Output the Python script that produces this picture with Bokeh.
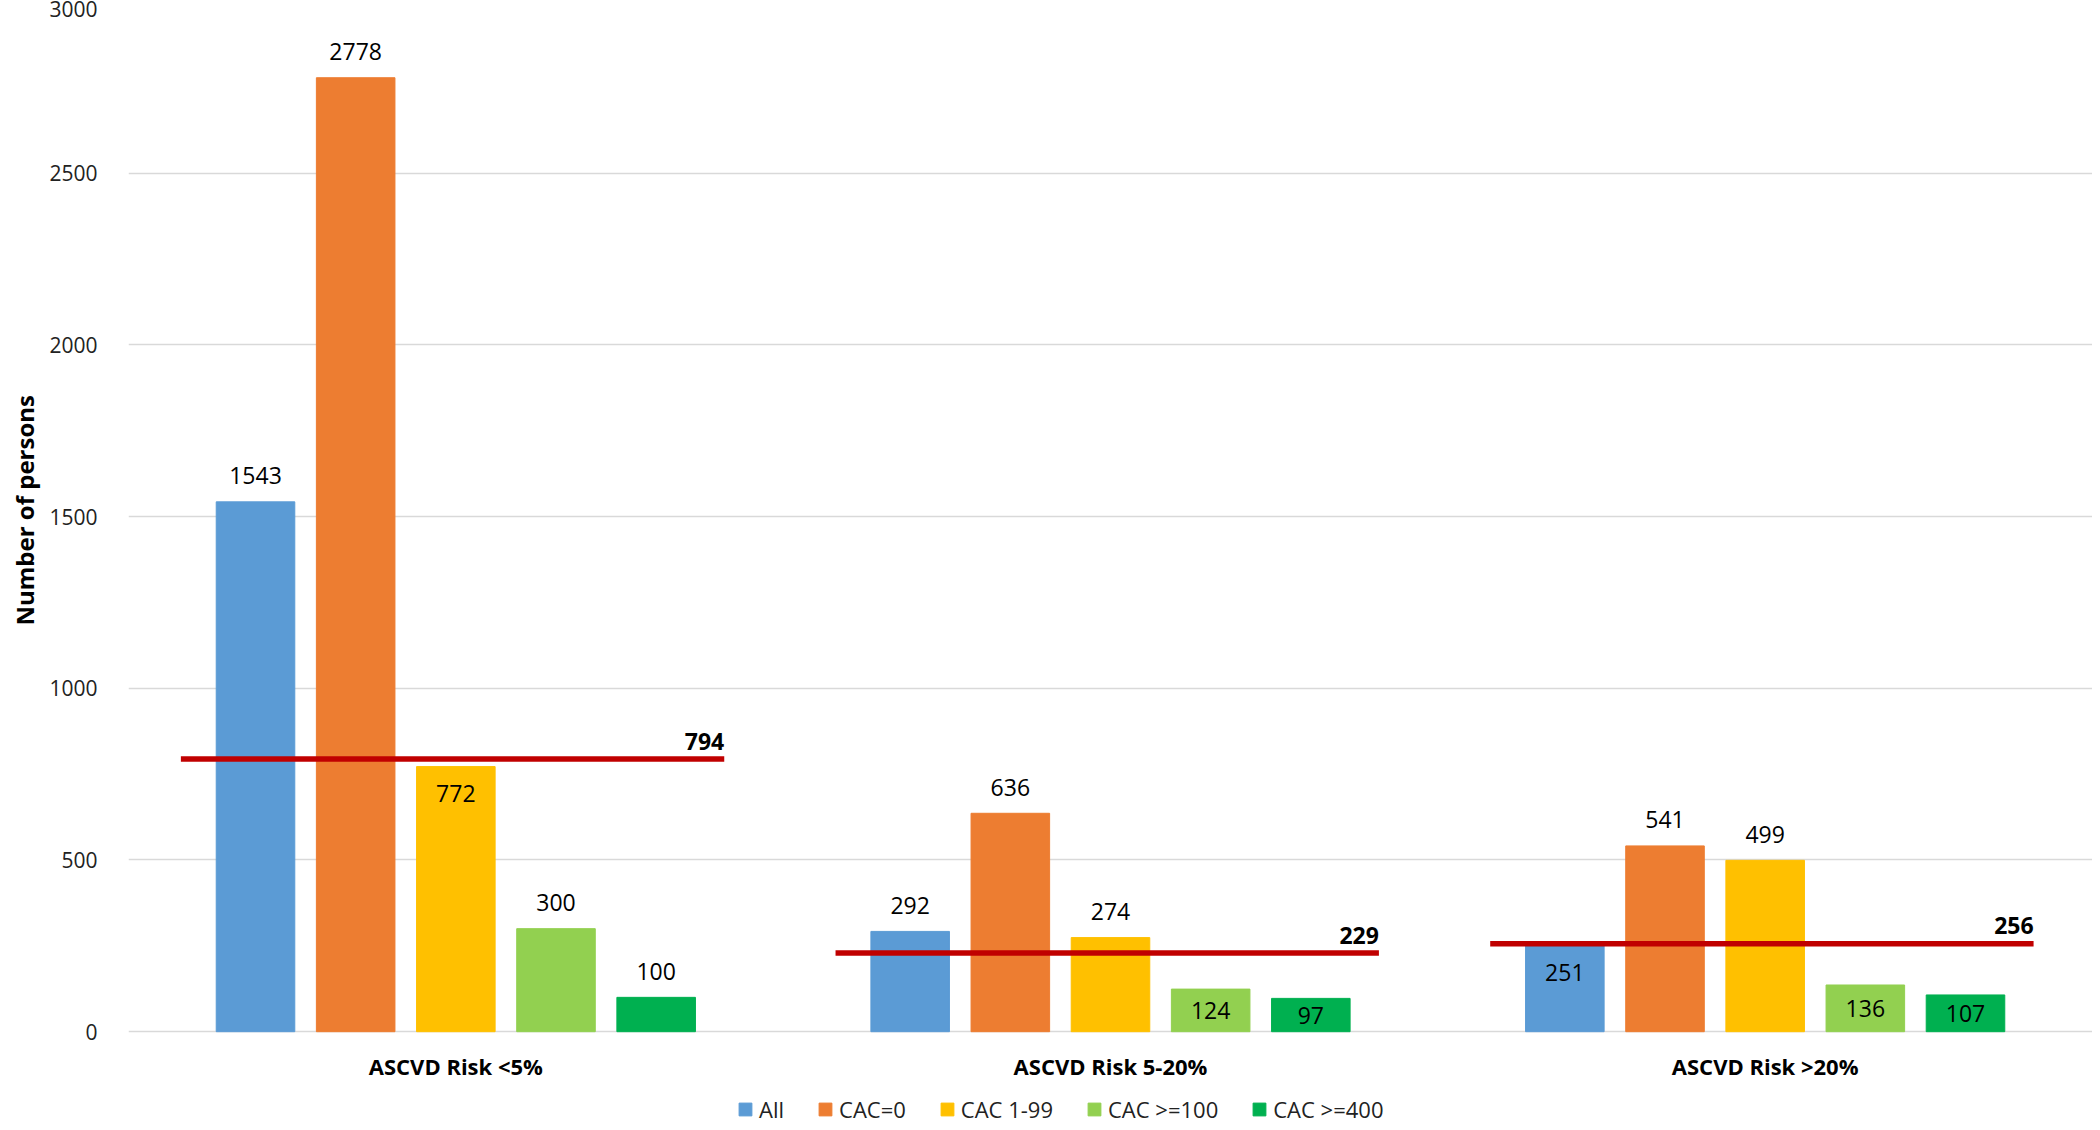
from bokeh.plotting import figure
from bokeh.models import ColumnDataSource, FactorRange, Range1d, Legend, LegendItem, FixedTicker
from bokeh.transform import dodge
from bokeh.core.properties import value
from bokeh.embed import file_html
from bokeh.resources import INLINE

# ---------------- data ----------------
categories = ["ASCVD Risk <5%", "ASCVD Risk 5-20%", "ASCVD Risk >20%"]
series_names = ["All", "CAC=0", "CAC 1-99", "CAC >=100", "CAC >=400"]
all_vals = [1543, 292, 251]
cac0_vals = [2778, 636, 541]
cac1_99_vals = [772, 274, 499]
cac100_vals = [300, 124, 136]
cac400_vals = [100, 97, 107]
average_vals = [794, 229, 256]
y_ticks = [0, 500, 1000, 1500, 2000, 2500, 3000]
y_max = 3000

# ---------------- style / layout ----------------
colors = ["#5B9BD5", "#ED7D31", "#FFC000", "#92D050", "#00B050"]
offsets = [-0.306, -0.153, 0.0, 0.153, 0.306]
bar_width = 0.12
# label placement per series / category: out = above bar, end = inside top, center = middle
label_place = [
    ["out", "out", "end"],
    ["out", "out", "out"],
    ["end", "out", "out"],
    ["out", "center", "center"],
    ["out", "center", "center"],
]
FONT = "Open Sans"
PLOT_PX = 1021      # pixels from 0 to y_max
BOTTOM_PX = 90      # room below the zero line for category names and legend

series_vals = [all_vals, cac0_vals, cac1_99_vals, cac100_vals, cac400_vals]

p = figure(
    width=2092, height=1122,
    x_range=FactorRange(*categories, range_padding=0),
    y_range=Range1d(-y_max * BOTTOM_PX / PLOT_PX, y_max),
    x_axis_location=None,
    output_backend="svg", toolbar_location=None,
    min_border_left=121, min_border_right=0, min_border_top=1, min_border_bottom=0,
    title="Number of persons", title_location="left",
)
p.outline_line_color = None
p.background_fill_color = "white"
p.border_fill_color = "white"

# y title (rotated, on the left)
p.title.text_font = FONT
p.title.text_font_size = "24px"
p.title.text_font_style = "bold"
p.title.text_color = "#000000"
p.title.align = "left"
p.title.offset = 497
p.title.standoff = 11

# grid
for g in p.xgrid:
    g.visible = False
p.ygrid.grid_line_color = "#d9d9d9"
p.ygrid.grid_line_width = 1.5
p.yaxis.ticker = FixedTicker(ticks=y_ticks)

# y axis
p.yaxis.axis_line_color = None
p.yaxis.major_tick_line_color = None
p.yaxis.minor_tick_line_color = None
p.yaxis.major_label_standoff = 25
p.yaxis.major_label_text_font = FONT
p.yaxis.major_label_text_font_size = "21px"
p.yaxis.major_label_text_color = "#222222"

legend_items = []
for name, vals, col, off, places in zip(series_names, series_vals, colors, offsets, label_place):
    label_y = []
    label_dy = []
    for v, pl in zip(vals, places):
        if pl == "out":
            label_y.append(v); label_dy.append(-26)
        elif pl == "end":
            label_y.append(v); label_dy.append(27)
        else:
            label_y.append(v / 2); label_dy.append(0)
    src = ColumnDataSource(dict(
        cat=categories, val=vals, label=[str(v) for v in vals],
        label_y=label_y, label_dy=label_dy,
    ))
    r = p.vbar(x=dodge("cat", off, range=p.x_range), top="val", width=bar_width,
               source=src, fill_color=col, line_color=col, line_width=1)
    p.text(x=dodge("cat", off, range=p.x_range), y="label_y", text="label", y_offset="label_dy",
           source=src, text_align="center", text_baseline="middle",
           text_font=value(FONT), text_font_size="23px", text_color="#000000")
    legend_items.append(LegendItem(label=name, renderers=[r]))

# category names under the zero line
cat_src = ColumnDataSource(dict(cat=categories, base=[0] * len(categories)))
p.text(x="cat", y="base", text="cat", source=cat_src, y_offset=34,
       text_align="center", text_baseline="middle",
       text_font=value(FONT), text_font_size="22px", text_font_style="bold", text_color="#000000")

# average lines
avg_src = ColumnDataSource(dict(cat=categories, avg=average_vals, label=[str(v) for v in average_vals]))
p.segment(x0=dodge("cat", -0.42, range=p.x_range), x1=dodge("cat", 0.41, range=p.x_range),
          y0="avg", y1="avg", source=avg_src, line_color="#C00000", line_width=5.5)
p.text(x=dodge("cat", 0.41, range=p.x_range), y="avg", text="label", source=avg_src,
       text_align="right", text_baseline="alphabetic", y_offset=-18,
       text_font=value(FONT), text_font_size="23px", text_font_style="bold", text_color="#000000")

legend = Legend(items=legend_items, orientation="horizontal", location=(609, -2),
                glyph_width=16, glyph_height=16, label_standoff=6, spacing=33,
                label_height=22, padding=0, margin=0,
                border_line_color=None, background_fill_alpha=0,
                label_text_font=FONT, label_text_font_size="22px", label_text_color="#222222")
p.add_layout(legend, "center")

open("out.html", "w").write(file_html(p, INLINE))
